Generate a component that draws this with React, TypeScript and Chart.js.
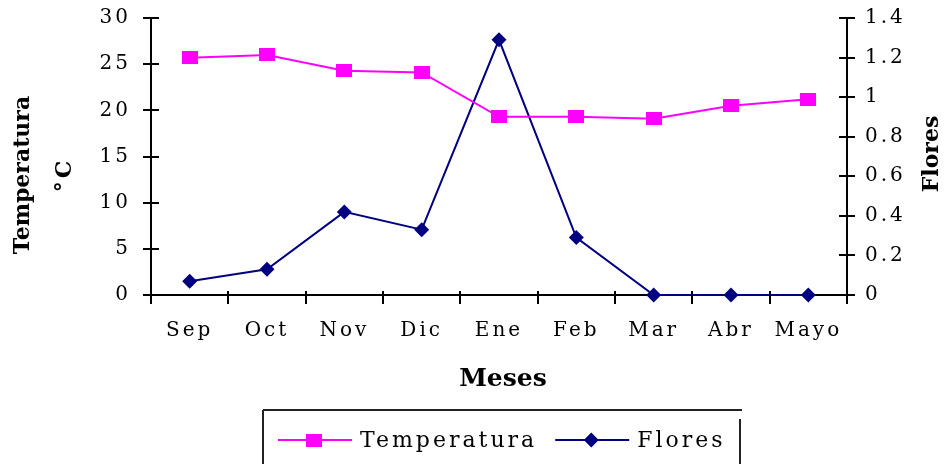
import React, { useEffect, useRef } from "react";
import { Chart, registerables } from "chart.js";

Chart.register(...registerables);

// Months on the horizontal axis
const meses = ["Sep", "Oct", "Nov", "Dic", "Ene", "Feb", "Mar", "Abr", "Mayo"];
// Mean temperature per month (°C, left axis)
const temperatura = [25.7, 26.0, 24.3, 24.1, 19.3, 19.3, 19.1, 20.5, 21.2];
// Flowers per month (right axis)
const flores = [0.07, 0.13, 0.42, 0.33, 1.29, 0.29, 0, 0, 0];
// Tick values for both vertical axes
const tempTicks = [0, 5, 10, 15, 20, 25, 30];
const floresTicks = [0, 0.2, 0.4, 0.6, 0.8, 1, 1.2, 1.4];

const SERIF = "'DejaVu Serif', serif";
const PINK = "#FF00FF";
const NAVY = "#000080";

// Slightly wide square marker for the temperature series
function makeSquare(w: number, h: number, color: string) {
  const c = document.createElement("canvas");
  c.width = w;
  c.height = h;
  const g = c.getContext("2d")!;
  g.fillStyle = color;
  g.fillRect(0, 0, w, h);
  return c;
}

function drawMarker(ctx: CanvasRenderingContext2D, style: any, x: number, y: number, r: number, color: string) {
  if (style instanceof HTMLCanvasElement) {
    ctx.drawImage(style, Math.round(x - style.width / 2), Math.round(y - style.height / 2));
    return;
  }
  ctx.fillStyle = color;
  ctx.beginPath();
  ctx.moveTo(x, y - r);
  ctx.lineTo(x + r, y);
  ctx.lineTo(x, y + r);
  ctx.lineTo(x - r, y);
  ctx.closePath();
  ctx.fill();
}

function rotatedText(ctx: CanvasRenderingContext2D, text: string, cx: number, cy: number, font: string, spacing: string) {
  ctx.save();
  ctx.translate(cx, cy);
  ctx.rotate(-Math.PI / 2);
  ctx.font = font;
  (ctx as any).letterSpacing = spacing;
  ctx.fillStyle = "#000";
  ctx.textAlign = "center";
  ctx.textBaseline = "middle";
  ctx.fillText(text, 0, 0);
  ctx.restore();
}

const decorPlugin = {
  id: "decor",
  beforeLayout(chart: any) {
    chart.ctx.letterSpacing = "3px";
  },
  beforeDraw(chart: any) {
    chart.ctx.letterSpacing = "3px";
  },
  afterDraw(chart: any) {
    const ctx: CanvasRenderingContext2D = chart.ctx;
    const { left, right, bottom } = chart.chartArea;
    const x = chart.scales.x;
    const yL = chart.scales.y;
    const yR = chart.scales.y1;

    // tick marks crossing the axes
    ctx.save();
    ctx.strokeStyle = "#000";
    ctx.lineWidth = 2;
    ctx.beginPath();
    yL.ticks.forEach((_t: any, i: number) => {
      const py = Math.round(yL.getPixelForTick(i));
      ctx.moveTo(left - 8, py);
      ctx.lineTo(left + 8, py);
    });
    yR.ticks.forEach((_t: any, i: number) => {
      const py = Math.round(yR.getPixelForTick(i));
      ctx.moveTo(right - 8, py);
      ctx.lineTo(right + 8, py);
    });
    for (let i = 0; i <= meses.length; i++) {
      const px = Math.round(x.getPixelForValue(i - 0.5));
      ctx.moveTo(px, bottom - 4);
      ctx.lineTo(px, bottom + 9);
    }
    ctx.stroke();
    ctx.restore();

    // axis titles
    rotatedText(ctx, "Temperatura", 23, 175, `bold 22px ${SERIF}`, "0px");
    rotatedText(ctx, "°C", 65, 175, `bold 22px ${SERIF}`, "3px");
    rotatedText(ctx, "Flores", 932, 154, `bold 22px ${SERIF}`, "0px");
    ctx.save();
    ctx.font = `bold 25px ${SERIF}`;
    (ctx as any).letterSpacing = "0px";
    ctx.fillStyle = "#000";
    ctx.textAlign = "center";
    ctx.textBaseline = "middle";
    ctx.fillText("Meses", 503, 379);
    ctx.restore();

    // legend box
    ctx.save();
    ctx.strokeStyle = "#222";
    ctx.lineWidth = 2;
    ctx.beginPath();
    ctx.moveTo(263, 410);
    ctx.lineTo(742, 410);
    ctx.moveTo(263, 410);
    ctx.lineTo(263, 470);
    ctx.moveTo(740, 419);
    ctx.lineTo(740, 470);
    ctx.stroke();

    ctx.font = `22px ${SERIF}`;
    (ctx as any).letterSpacing = "3px";
    ctx.textAlign = "left";
    ctx.textBaseline = "middle";
    let cx = 278;
    const ly = 440;
    chart.data.datasets.forEach((ds: any) => {
      ctx.strokeStyle = ds.borderColor;
      ctx.lineWidth = 2;
      ctx.beginPath();
      ctx.moveTo(cx, ly);
      ctx.lineTo(cx + 74, ly);
      ctx.stroke();
      drawMarker(ctx, ds.pointStyle, cx + 36, ly, ds.pointRadius, ds.backgroundColor);
      ctx.fillStyle = "#000";
      ctx.fillText(ds.label, cx + 82, ly + 1);
      cx += 82 + ctx.measureText(ds.label).width + 18;
    });
    ctx.restore();
  },
};

export default function App() {
  const ref = useRef<HTMLCanvasElement>(null);

  useEffect(() => {
    document.body.style.margin = "0";
    const tickFont = { family: SERIF, size: 20 };
    const square = makeSquare(16, 13, PINK);
    const chart = new Chart(ref.current!, {
      type: "line",
      data: {
        labels: meses,
        datasets: [
          {
            label: "Temperatura",
            data: temperatura,
            yAxisID: "y",
            borderColor: PINK,
            backgroundColor: PINK,
            borderWidth: 2,
            pointStyle: square,
            pointRadius: 8,
            pointBorderWidth: 0,
            tension: 0,
            clip: false,
          },
          {
            label: "Flores",
            data: flores,
            yAxisID: "y1",
            borderColor: NAVY,
            backgroundColor: NAVY,
            borderWidth: 2,
            pointStyle: "rectRot",
            pointRadius: 7.5,
            pointBorderWidth: 0,
            tension: 0,
            clip: false,
          },
        ],
      },
      options: {
        responsive: false,
        animation: false,
        devicePixelRatio: 1,
        layout: { padding: { top: 18, left: 0, right: 0, bottom: 0 } },
        plugins: { legend: { display: false }, tooltip: { enabled: false } },
        scales: {
          x: {
            type: "category",
            offset: true,
            grid: { display: false, drawTicks: false },
            border: { display: true, color: "#000", width: 2 },
            ticks: { font: tickFont, color: "#000", padding: 24, maxRotation: 0, autoSkip: false },
            afterFit: (s: any) => {
              s.height = 169;
            },
          },
          y: {
            position: "left",
            min: 0,
            max: 30,
            grid: { display: false, drawTicks: false },
            border: { display: true, color: "#000", width: 2 },
            ticks: { font: tickFont, color: "#000", padding: 20 },
            afterBuildTicks: (s: any) => {
              s.ticks = tempTicks.map((v) => ({ value: v }));
            },
            afterFit: (s: any) => {
              s.width = 151;
              s.paddingTop = 0;
              s.paddingBottom = 0;
            },
          },
          y1: {
            position: "right",
            min: 0,
            max: 1.4,
            grid: { display: false, drawTicks: false },
            border: { display: true, color: "#000", width: 2 },
            ticks: {
              font: tickFont,
              color: "#000",
              padding: 18,
              callback: (v: any) => String(Number(Number(v).toFixed(1))),
            },
            afterBuildTicks: (s: any) => {
              s.ticks = floresTicks.map((v) => ({ value: v }));
            },
            afterFit: (s: any) => {
              s.width = 100;
              s.paddingTop = 0;
              s.paddingBottom = 0;
            },
          },
        },
      },
      plugins: [decorPlugin],
    } as any);
    return () => chart.destroy();
  }, []);

  return (
    <div style={{ width: 947, height: 464 }}>
      <canvas ref={ref} width={947} height={464} style={{ display: "block" }} />
    </div>
  );
}
